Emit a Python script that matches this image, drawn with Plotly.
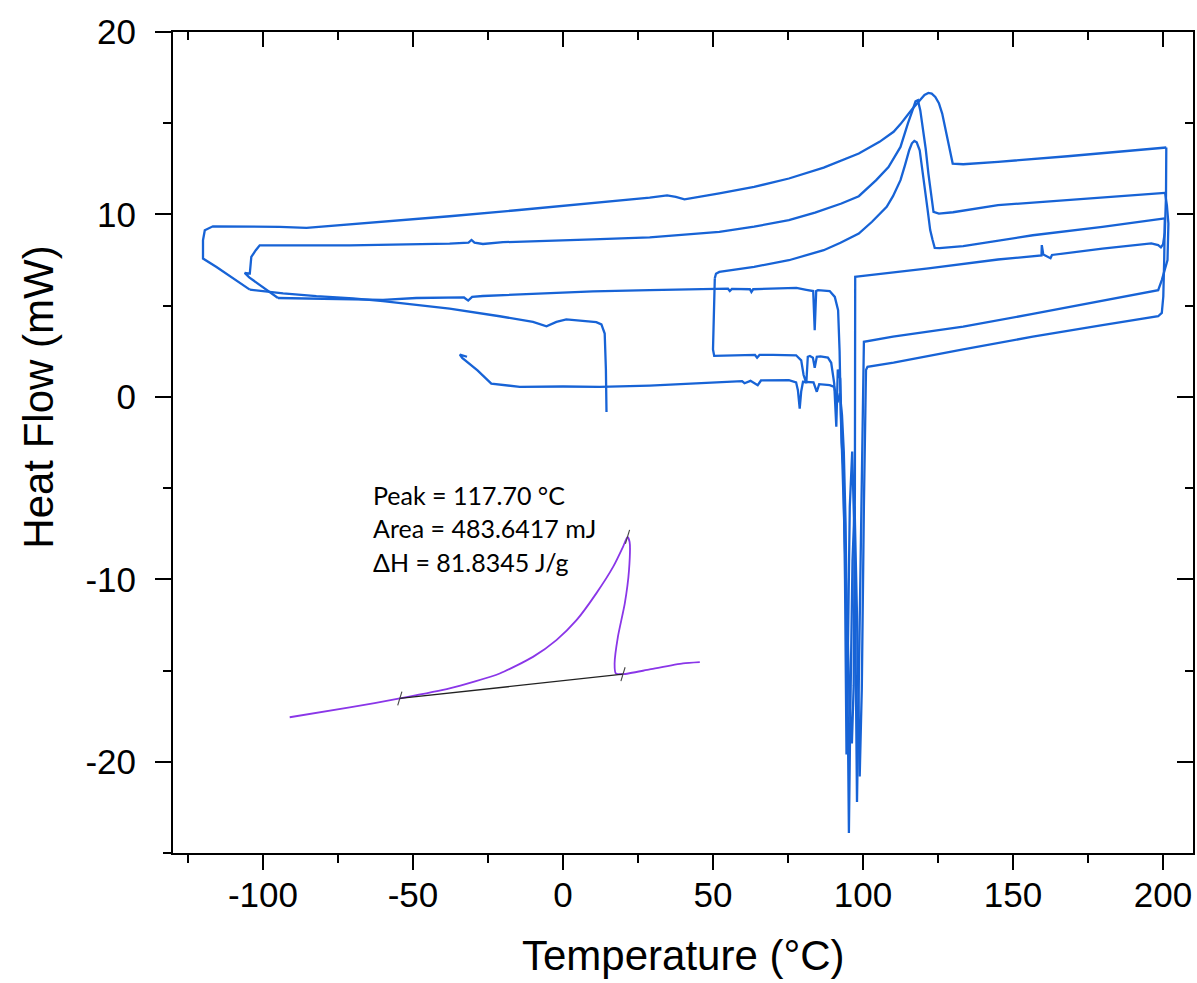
import plotly.graph_objects as go

# ---------------- data ----------------
heat1_x = [-32.0, -34.4, -33.6, -28.5, -23.9, -14.4, 0.0, 12.2, 28.9, 46.3, 59.7, 60.5, 62.5, 64.9, 66.0, 75.3, 77.7, 78.3, 78.9, 79.4, 80.0, 83.5, 84.2, 84.6, 85.4, 88.9,
           90.4, 91.5, 92.3, 93.0, 93.6, 94.2, 94.8, 95.3, 95.8, 96.5, 97.2, 98.0, 98.9, 99.6, 100.3, 100.8, 101.0, 101.5,
           110.2, 133.4, 156.6, 179.8, 198.4, 199.6, 200.1, 200.4, 200.6]
heat1_y = [2.20, 2.32, 2.14, 1.45, 0.73, 0.55, 0.57, 0.55, 0.62, 0.74, 0.86, 0.75, 0.88, 0.64, 0.90, 0.92, 0.80, 0.37, -0.64, 0.30, 0.83, 0.80, 0.50, 0.28, 0.70, 0.64,
           0.55, -0.3, 0.2, -1.0, -3.0, -7.0, -15.0, -23.9, -17.0, -9.0, -6.0, -12.0, -20.8, -16.0, -6.0, -1.0, 1.47, 1.65,
           1.88, 2.6, 3.3, 3.93, 4.42, 4.6, 5.5, 7.5, 9.78]

cool1_x = [200.6, 190, 179.8, 156.6, 133.4, 125.5, 123.9, 123.2, 122.4, 121.5, 120.6, 119.7, 118.9, 117.9, 117.1, 116.3, 115.4, 114.0, 112.5, 110.0,
           107.9, 103.0, 98.6, 92.5, 86.9, 75.3, 63.7, 52.1, 51.0, 50.6]
cool1_y = [9.78, 9.55, 9.32, 8.86, 8.26, 8.15, 8.17, 8.6, 9.14, 10.3, 11.51, 12.6, 13.52, 13.95, 14.03, 13.9, 13.52, 12.7, 11.88, 11.0,
           10.42, 9.6, 8.95, 8.45, 8.04, 7.49, 7.13, 6.85, 6.75, 6.5]

heat2_x = [50.6, 50.3, 50.0, 50.4, 55.0, 64.0, 64.7, 65.5, 70.0, 77.7, 79.4, 80.2, 81.1, 81.6, 82.3, 83.3, 83.9, 84.6, 85.8, 88.3,
           89.4, 90.4, 91.1, 91.6, 92.4, 92.9, 93.5, 94.0, 94.5, 95.0, 95.6, 96.4, 97.2, 98.0, 98.6, 99.4, 99.9, 100.1, 100.3,
           110.0, 133.4, 156.6, 179.8, 198.4, 199.6, 200.5, 201.5, 201.8, 201.3, 200.7]
heat2_y = [6.5, 4.5, 2.6, 2.25, 2.26, 2.3, 2.15, 2.3, 2.3, 2.28, 2.0, 1.2, 0.75, 2.2, 2.24, 2.15, 1.6, 2.2, 2.22, 2.15,
           1.87, 0.74, -1.64, 1.5, 1.0, -2.5, -4.0, -10.0, -19.6, -13.0, -6.0, -3.0, -8.0, -22.2, -16.0, -8.0, -2.0, 1.0, 3.02,
           3.3, 3.85, 4.55, 5.25, 5.85, 6.4, 7.0, 7.5, 9.5, 10.5, 11.18]

cool2_x = [200.7, 185, 168.2, 145.0, 130, 125.3, 123.5, 122.6, 121.8, 120.9, 120.0, 119.1, 118.3, 117.5, 116.5, 115.0, 112.5, 108.5, 104.4, 98.6,
           92.8, 84.0, 75.3, 63.7, 52.1, 40.0, 28.9, 10.0, -4.4, -20.0, -26.7, -29.5, -30.5, -31.5, -37.8, -60.0, -71.1, -90.0, -101.1, -102.4,
           -103.9, -104.4, -106.1, -104.6, -99.0, -95.0]
cool2_y = [11.18, 10.98, 10.78, 10.51, 10.12, 10.05, 10.14, 11.2, 12.24, 13.6, 14.8, 15.7, 16.26, 16.2, 15.7, 15.0, 13.7, 12.6, 11.88, 11.0,
           10.6, 10.1, 9.69, 9.33, 9.05, 8.88, 8.74, 8.63, 8.55, 8.48, 8.38, 8.45, 8.6, 8.45, 8.4, 8.35, 8.3, 8.3, 8.31, 8.04,
           7.67, 6.76, 6.8, 6.55, 5.9, 5.42]

heat3_x = [-95.0, -82.2, -70.0, -60.0, -48.9, -33.0, -31.6, -30.3, -26.7, -4.4, 10.0, 28.9, 48.9, 55.0, 55.6, 56.3, 62.3, 62.8, 63.4, 77.8,
           81.1, 83.4, 83.9, 84.4, 85.0, 88.9,
           90.6, 91.7, 92.2, 92.6, 93.2, 94.0, 94.8, 95.6, 96.3, 96.9, 97.3, 97.4,
           98.6, 121.8, 145.0, 159.5, 159.6, 160.1, 162.5, 163.0, 179.8, 196.1, 198.4, 199.3, 200.0, 200.6, 201.0, 201.1]
heat3_y = [5.42, 5.38, 5.33, 5.32, 5.42, 5.45, 5.28, 5.48, 5.53, 5.7, 5.78, 5.85, 5.93, 5.93, 5.8, 5.92, 5.9, 5.75, 5.9, 5.98,
           5.87, 5.8, 3.65, 5.8, 5.85, 5.8,
           5.48, 4.75, 2.5, -1.0, -4.0, -8.0, -12.5, -17.0, -19.0, -15.8, -5.0, 6.58,
           6.6, 7.04, 7.53, 7.75, 8.32, 7.8, 7.6, 7.78, 8.13, 8.41, 8.32, 8.2, 8.35, 9.0, 11.0, 13.67]

cool3_x = [201.1, 191.5, 168.2, 145.0, 133.4, 129.9, 129.0, 128.2, 127.3, 126.4, 125.3, 124.1, 122.9, 121.8, 120.5, 118.3, 116.5, 114.8, 112.5, 110.2,
           105.5, 98.6, 86.9, 75.3, 63.7, 52.1, 44.0, 40.5, 37.6, 34.7, 28.9, 6.7, -15.5, -37.8, -59.9, -76.7, -85.5, -94.4, -116.7, -119.4,
           -120.0, -120.0, -115.5, -104.4]
cool3_y = [13.67, 13.52, 13.19, 12.88, 12.75, 12.79, 13.5, 14.07, 14.9, 15.53, 16.1, 16.44, 16.62, 16.66, 16.55, 16.17, 15.8, 15.44, 14.95, 14.53,
           13.98, 13.34, 12.57, 11.97, 11.51, 11.15, 10.93, 10.83, 10.96, 11.05, 10.92, 10.56, 10.23, 9.9, 9.59, 9.35, 9.26, 9.32, 9.35, 9.13,
           8.59, 7.58, 7.12, 5.88]

heat4_x = [-104.4, -93.3, -82.2, -70.0, -60.0, -48.0, -37.8, -21.1, -10.0, -5.5, -2.2, 1.1, 11.1, 12.8, 13.9, 14.3, 14.5]
heat4_y = [5.88, 5.67, 5.52, 5.40, 5.25, 5.02, 4.84, 4.42, 4.11, 3.87, 4.11, 4.25, 4.10, 3.97, 3.47, 1.5, -0.83]

# inset peak (integration illustration)
inset_x = [-91.1, -71.1, -54.4, -37.8, -21.1, -10.0, -2.2, 4.5, 11.1, 16.7, 20.0, 21.5, 22.2, 22.0, 20.6, 18.3, 17.2, 17.6, 20.0, 28.9, 40.0, 45.6]
inset_y = [-17.56, -17.02, -16.53, -15.98, -15.16, -14.25, -13.33, -12.24, -10.77, -9.32, -8.22, -7.67, -7.95, -9.5, -11.32, -13.15, -14.61, -15.16, -15.2, -14.94, -14.61, -14.54]
baseline_x = [-54.4, 20.0]
baseline_y = [-16.53, -15.2]
marker_x = [-54.4, 20.0, 21.5]
marker_y = [-16.53, -15.2, -7.67]

label_lines = ["Peak = 117.70 °C", "Area = 483.6417 mJ", "ΔH = 81.8345 J/g"]
label_y = [-5.39, -7.21, -9.04]
label_x0 = -63.9

x_ticks = [-100, -50, 0, 50, 100, 150, 200]
y_ticks = [-20, -10, 0, 10, 20]
x_range = [-130, 210]
y_range = [-25, 20]

BLUE = "#1763d6"
PURPLE = "#8a36e8"
TICKFONT = dict(family="Liberation Sans Narrow, Arial Narrow, Liberation Sans, Arial, sans-serif", size=35, color="black")

fig = go.Figure()
for xs, ys in [(heat1_x, heat1_y), (cool1_x, cool1_y), (heat2_x, heat2_y), (cool2_x, cool2_y),
               (heat3_x, heat3_y), (cool3_x, cool3_y), (heat4_x, heat4_y)]:
    fig.add_trace(go.Scatter(x=xs, y=ys, mode="lines", line=dict(color=BLUE, width=2.3),
                             showlegend=False, hoverinfo="skip"))

fig.add_trace(go.Scatter(x=inset_x, y=inset_y, mode="lines", line=dict(color=PURPLE, width=1.8, shape="spline", smoothing=0.6),
                         showlegend=False, hoverinfo="skip"))
fig.add_trace(go.Scatter(x=baseline_x, y=baseline_y, mode="lines", line=dict(color="#222222", width=1.3),
                         showlegend=False, hoverinfo="skip"))
mx, my = [], []
for a, b in zip(marker_x, marker_y):
    mx += [a - 0.7, a + 0.7, None]
    my += [b - 0.38, b + 0.38, None]
fig.add_trace(go.Scatter(x=mx, y=my, mode="lines", line=dict(color="#444444", width=1.1),
                         showlegend=False, hoverinfo="skip"))

fig.add_trace(go.Scatter(x=[None], y=[None], xaxis="x2", yaxis="y2", showlegend=False, hoverinfo="skip"))

for txt, yy in zip(label_lines, label_y):
    fig.add_annotation(x=label_x0, y=yy, xref="x", yref="y", text=txt, showarrow=False,
                       xanchor="left", yanchor="middle",
                       font=dict(family="Lato, Carlito, sans-serif", size=25, color="black"))

fig.add_annotation(x=0.5, y=-0.125, xref="paper", yref="paper", text="Temperature (°C)", showarrow=False,
                   xanchor="center", yanchor="middle",
                   font=dict(family="Liberation Sans, Arial, sans-serif", size=42, color="black"))
fig.add_annotation(x=-0.132, y=0.555, xref="paper", yref="paper", text="Heat Flow (mW)", showarrow=False,
                   textangle=-90, xanchor="center", yanchor="middle",
                   font=dict(family="Liberation Sans, Arial, sans-serif", size=42, color="black"))

axis_common = dict(showline=True, linecolor="black", linewidth=2, showgrid=False, zeroline=False)

fig.update_layout(
    width=1197, height=983,
    margin=dict(l=173, r=4, t=32, b=130),
    paper_bgcolor="white", plot_bgcolor="white",
    xaxis=dict(range=x_range, tickmode="array", tickvals=x_ticks, ticktext=[str(v) for v in x_ticks],
               ticks="outside", ticklen=15, tickwidth=2, tickcolor="black",
               tickfont=TICKFONT, ticklabelstandoff=-5,
               minor=dict(dtick=25, tick0=0, ticks="outside", ticklen=8, tickwidth=2, tickcolor="black"),
               **axis_common),
    yaxis=dict(range=y_range, tickmode="array", tickvals=y_ticks, ticktext=[str(v) for v in y_ticks],
               ticks="outside", ticklen=16, tickwidth=2, tickcolor="black",
               tickfont=TICKFONT, ticklabelstandoff=12,
               minor=dict(dtick=5, tick0=0, ticks="outside", ticklen=8, tickwidth=2, tickcolor="black"),
               **axis_common),
    xaxis2=dict(range=x_range, overlaying="x", side="top", anchor="y2", tickvals=x_ticks, ticks="inside",
                ticklen=15, tickwidth=2, tickcolor="black", showticklabels=False,
                minor=dict(dtick=25, tick0=0, ticks="inside", ticklen=8, tickwidth=2, tickcolor="black"),
                **axis_common),
    yaxis2=dict(range=y_range, overlaying="y", side="right", anchor="x2", tickvals=y_ticks, ticks="inside",
                ticklen=16, tickwidth=2, tickcolor="black", showticklabels=False,
                minor=dict(dtick=5, tick0=0, ticks="inside", ticklen=8, tickwidth=2, tickcolor="black"),
                **axis_common),
)

fig.write_html("out.html")
